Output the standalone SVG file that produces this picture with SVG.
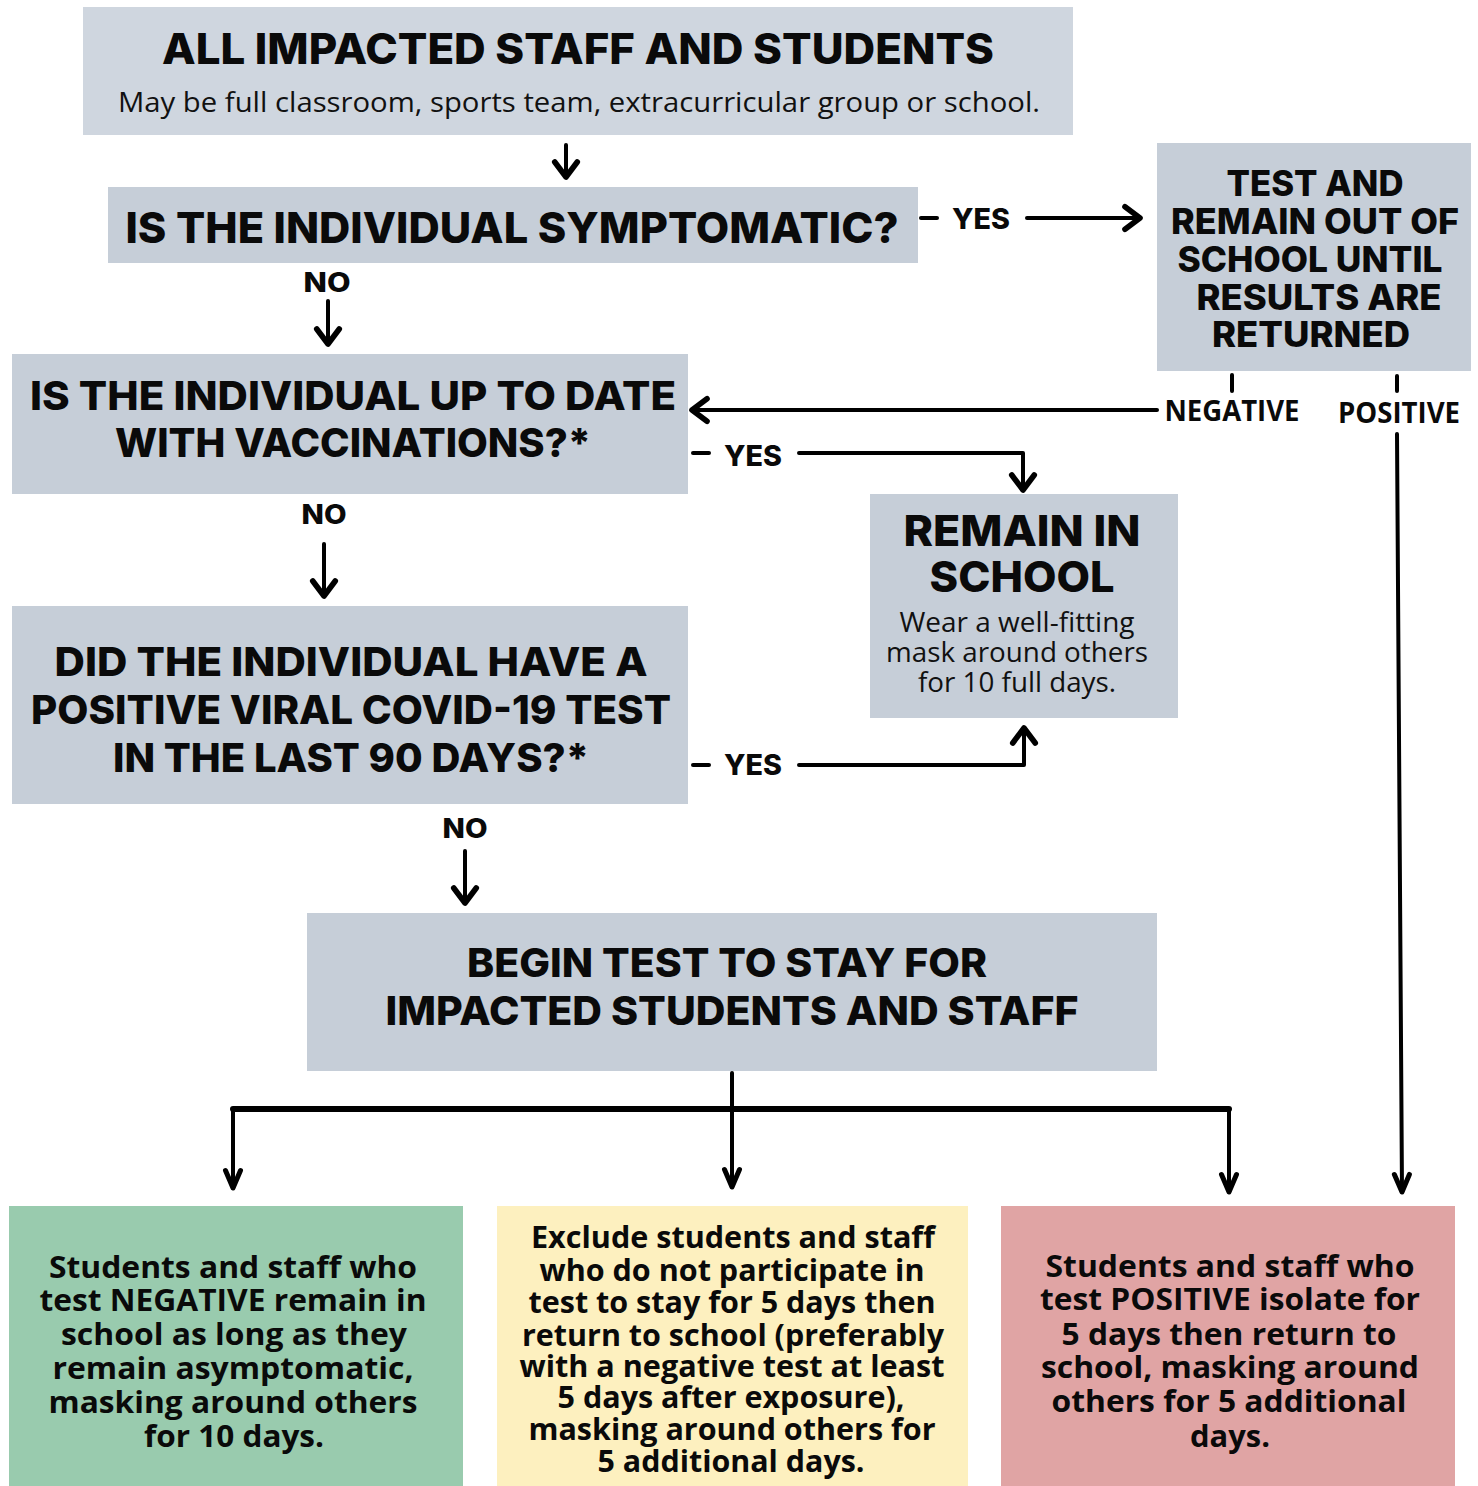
<svg xmlns="http://www.w3.org/2000/svg" width="1478" height="1486" viewBox="0 0 1478 1486">
<defs>
<style>
.box{fill:#c6ced8}
.boxl{fill:#cfd6df}
.t{font-family:Inter,"Liberation Sans",sans-serif;font-weight:800;fill:#0a0a0a;text-anchor:middle}
.b{font-family:"Open Sans","Liberation Sans",sans-serif;font-weight:700;fill:#0a0a0a;text-anchor:middle}
.r{font-family:"Open Sans","Liberation Sans",sans-serif;font-weight:400;fill:#111;text-anchor:middle}
.c{fill:none;stroke:#000;stroke-width:4;stroke-linecap:round;stroke-linejoin:round}
</style>
<marker id="ah" markerUnits="userSpaceOnUse" markerWidth="30" markerHeight="30" viewBox="-16 -12 20 24" refX="0" refY="0" orient="auto">
<path d="M-12,-9 L0,0 L-12,9" fill="none" stroke="#000" stroke-width="4.5" stroke-linecap="round" stroke-linejoin="round"/>
</marker>
<marker id="ahn" markerUnits="userSpaceOnUse" markerWidth="30" markerHeight="30" viewBox="-16 -12 20 24" refX="0" refY="0" orient="auto">
<path d="M-14,-6 L0,0 L-14,6" fill="none" stroke="#000" stroke-width="4" stroke-linecap="round" stroke-linejoin="round"/>
</marker>
</defs>
<rect width="1478" height="1486" fill="#fff"/>

<g id="node-all">
<rect class="boxl" x="83" y="7" width="990" height="128"/>
<text class="t" x="578" y="64" font-size="42" textLength="832" lengthAdjust="spacingAndGlyphs">ALL IMPACTED STAFF AND STUDENTS</text>
<text class="r" x="579" y="112" font-size="27" textLength="922" lengthAdjust="spacingAndGlyphs">May be full classroom, sports team, extracurricular group or school.</text>
</g>

<g id="node-symptomatic">
<rect class="box" x="108" y="187" width="810" height="76"/>
<text class="t" x="512" y="243" font-size="43" textLength="773" lengthAdjust="spacingAndGlyphs">IS THE INDIVIDUAL SYMPTOMATIC?</text>
</g>

<g id="node-test">
<rect class="box" x="1157" y="143" width="314" height="228"/>
<text class="t" x="1315" y="196" font-size="35" textLength="177" lengthAdjust="spacingAndGlyphs">TEST AND</text>
<text class="t" x="1315" y="234" font-size="35" textLength="288" lengthAdjust="spacingAndGlyphs">REMAIN OUT OF</text>
<text class="t" x="1310" y="272" font-size="35" textLength="265" lengthAdjust="spacingAndGlyphs">SCHOOL UNTIL</text>
<text class="t" x="1319" y="310" font-size="35" textLength="245" lengthAdjust="spacingAndGlyphs">RESULTS ARE</text>
<text class="t" x="1311" y="347" font-size="35" textLength="198" lengthAdjust="spacingAndGlyphs">RETURNED</text>
</g>

<g id="node-vaccinated">
<rect class="box" x="12" y="354" width="676" height="140"/>
<text class="t" x="353" y="410" font-size="40" textLength="646" lengthAdjust="spacingAndGlyphs">IS THE INDIVIDUAL UP TO DATE</text>
<text class="t" x="353" y="457" font-size="40" textLength="476" lengthAdjust="spacingAndGlyphs">WITH VACCINATIONS?*</text>
</g>

<g id="node-remain">
<rect class="box" x="870" y="494" width="308" height="224"/>
<text class="t" x="1022" y="546" font-size="43" textLength="237" lengthAdjust="spacingAndGlyphs">REMAIN IN</text>
<text class="t" x="1022" y="592" font-size="43" textLength="185" lengthAdjust="spacingAndGlyphs">SCHOOL</text>
<text class="r" x="1017" y="632" font-size="27" textLength="235" lengthAdjust="spacingAndGlyphs">Wear a well-fitting</text>
<text class="r" x="1017" y="662" font-size="27" textLength="262" lengthAdjust="spacingAndGlyphs">mask around others</text>
<text class="r" x="1017" y="692" font-size="27" textLength="198" lengthAdjust="spacingAndGlyphs">for 10 full days.</text>
</g>

<g id="node-prior-positive">
<rect class="box" x="12" y="606" width="676" height="198"/>
<text class="t" x="351" y="676" font-size="40" textLength="593" lengthAdjust="spacingAndGlyphs">DID THE INDIVIDUAL HAVE A</text>
<text class="t" x="351" y="724" font-size="40" textLength="640" lengthAdjust="spacingAndGlyphs">POSITIVE VIRAL COVID-19 TEST</text>
<text class="t" x="351" y="772" font-size="40" textLength="476" lengthAdjust="spacingAndGlyphs">IN THE LAST 90 DAYS?*</text>
</g>

<g id="node-begin">
<rect class="box" x="307" y="913" width="850" height="158"/>
<text class="t" x="727" y="977" font-size="40" textLength="520" lengthAdjust="spacingAndGlyphs">BEGIN TEST TO STAY FOR</text>
<text class="t" x="732" y="1025" font-size="40" textLength="693" lengthAdjust="spacingAndGlyphs">IMPACTED STUDENTS AND STAFF</text>
</g>

<g id="node-negative">
<rect x="9" y="1206" width="454" height="280" fill="#99cbae"/>
<text class="b" x="233" y="1278" font-size="30" textLength="368" lengthAdjust="spacingAndGlyphs">Students and staff who</text>
<text class="b" x="233" y="1311" font-size="30" textLength="387" lengthAdjust="spacingAndGlyphs">test NEGATIVE remain in</text>
<text class="b" x="234" y="1345" font-size="30" textLength="346" lengthAdjust="spacingAndGlyphs">school as long as they</text>
<text class="b" x="233" y="1379" font-size="30" textLength="361" lengthAdjust="spacingAndGlyphs">remain asymptomatic,</text>
<text class="b" x="233" y="1413" font-size="30" textLength="369" lengthAdjust="spacingAndGlyphs">masking around others</text>
<text class="b" x="234" y="1447" font-size="30" textLength="180" lengthAdjust="spacingAndGlyphs">for 10 days.</text>
</g>

<g id="node-exclude">
<rect x="497" y="1206" width="471" height="280" fill="#fdf0bf"/>
<text class="b" x="733" y="1248" font-size="30" textLength="404" lengthAdjust="spacingAndGlyphs">Exclude students and staff</text>
<text class="b" x="732" y="1281" font-size="30" textLength="385" lengthAdjust="spacingAndGlyphs">who do not participate in</text>
<text class="b" x="732" y="1313" font-size="30" textLength="407" lengthAdjust="spacingAndGlyphs">test to stay for 5 days then</text>
<text class="b" x="733" y="1346" font-size="30" textLength="422" lengthAdjust="spacingAndGlyphs">return to school (preferably</text>
<text class="b" x="732" y="1377" font-size="30" textLength="425" lengthAdjust="spacingAndGlyphs">with a negative test at least</text>
<text class="b" x="731" y="1408" font-size="30" textLength="347" lengthAdjust="spacingAndGlyphs">5 days after exposure),</text>
<text class="b" x="732" y="1440" font-size="30" textLength="407" lengthAdjust="spacingAndGlyphs">masking around others for</text>
<text class="b" x="731" y="1472" font-size="30" textLength="267" lengthAdjust="spacingAndGlyphs">5 additional days.</text>
</g>

<g id="node-positive">
<rect x="1001" y="1206" width="454" height="280" fill="#e0a4a4"/>
<text class="b" x="1230" y="1277" font-size="30" textLength="369" lengthAdjust="spacingAndGlyphs">Students and staff who</text>
<text class="b" x="1230" y="1310" font-size="30" textLength="380" lengthAdjust="spacingAndGlyphs">test POSITIVE isolate for</text>
<text class="b" x="1229" y="1345" font-size="30" textLength="335" lengthAdjust="spacingAndGlyphs">5 days then return to</text>
<text class="b" x="1230" y="1378" font-size="30" textLength="378" lengthAdjust="spacingAndGlyphs">school, masking around</text>
<text class="b" x="1229" y="1412" font-size="30" textLength="355" lengthAdjust="spacingAndGlyphs">others for 5 additional</text>
<text class="b" x="1230" y="1447" font-size="30" textLength="80" lengthAdjust="spacingAndGlyphs">days.</text>
</g>

<g id="connectors">
<line class="c" x1="566" y1="145" x2="566" y2="177" marker-end="url(#ah)"/>
<line class="c" x1="921" y1="218" x2="937" y2="218"/>
<line class="c" x1="1027" y1="218" x2="1140" y2="218" marker-end="url(#ah)"/>
<line class="c" x1="328" y1="301" x2="328" y2="344" marker-end="url(#ah)"/>
<line class="c" x1="1232" y1="375" x2="1232" y2="391"/>
<line class="c" x1="1157" y1="410" x2="692" y2="410" marker-end="url(#ah)"/>
<line class="c" x1="1397" y1="376" x2="1397" y2="391"/>
<line class="c" x1="1397" y1="434" x2="1402" y2="1192" marker-end="url(#ahn)"/>
<line class="c" x1="693" y1="453" x2="709" y2="453"/>
<path class="c" d="M799,453 H1023 V490" marker-end="url(#ah)"/>
<line class="c" x1="324" y1="544" x2="324" y2="596" marker-end="url(#ah)"/>
<line class="c" x1="693" y1="765" x2="709" y2="765"/>
<path class="c" d="M799,765 H1024 V728" marker-end="url(#ah)"/>
<line class="c" x1="465" y1="851" x2="465" y2="903" marker-end="url(#ah)"/>
<line class="c" x1="732" y1="1073" x2="732" y2="1187" marker-end="url(#ahn)"/>
<line x1="233" y1="1109" x2="1229" y2="1109" stroke="#000" stroke-width="6" stroke-linecap="round"/>
<line class="c" x1="233" y1="1109" x2="233" y2="1188" marker-end="url(#ahn)"/>
<line class="c" x1="1229" y1="1109" x2="1229" y2="1192" marker-end="url(#ahn)"/>
<text class="t" x="981" y="229" font-size="28" textLength="58" lengthAdjust="spacingAndGlyphs">YES</text>
<text class="t" x="327" y="292" font-size="27" textLength="47" lengthAdjust="spacingAndGlyphs">NO</text>
<text class="b" x="1232" y="421" font-size="28" textLength="135" lengthAdjust="spacingAndGlyphs">NEGATIVE</text>
<text class="b" x="1399" y="423" font-size="28" textLength="122" lengthAdjust="spacingAndGlyphs">POSITIVE</text>
<text class="t" x="753" y="466" font-size="28" textLength="58" lengthAdjust="spacingAndGlyphs">YES</text>
<text class="t" x="324" y="524" font-size="27" textLength="45" lengthAdjust="spacingAndGlyphs">NO</text>
<text class="t" x="753" y="775" font-size="28" textLength="58" lengthAdjust="spacingAndGlyphs">YES</text>
<text class="t" x="465" y="838" font-size="27" textLength="45" lengthAdjust="spacingAndGlyphs">NO</text>
</g>
</svg>
